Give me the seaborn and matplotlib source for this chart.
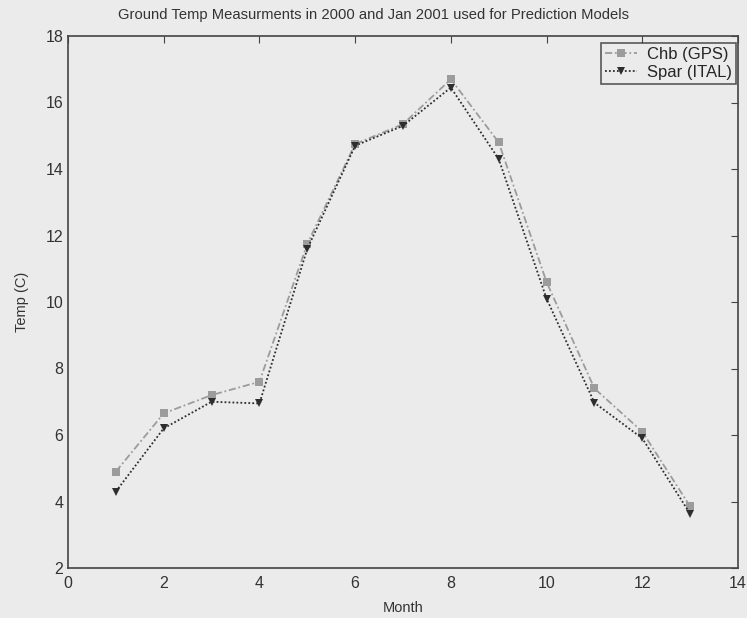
import numpy as np
import pandas as pd
import seaborn as sns
import matplotlib
matplotlib.use("Agg")
import matplotlib.pyplot as plt

months = [1, 2, 3, 4, 5, 6, 7, 8, 9, 10, 11, 12, 13]
chb_gps = [4.9, 6.65, 7.2, 7.6, 11.75, 14.75, 15.35, 16.7, 14.8, 10.6, 7.4, 6.1, 3.85]
spar_ital = [4.3, 6.2, 7.0, 6.95, 11.6, 14.7, 15.3, 16.45, 14.3, 10.1, 6.97, 5.9, 3.63]
series_names = ["Chb (GPS)", "Spar (ITAL)"]

df = pd.DataFrame({
    "Month": months * 2,
    "Temp": chb_gps + spar_ital,
    "Series": [series_names[0]] * len(months) + [series_names[1]] * len(months),
})

sns.set_style("white")
plt.rcParams["font.family"] = ["Liberation Sans", "DejaVu Sans"]
bg = "#ebebeb"
W, H = 747, 618
fig = plt.figure(figsize=(W / 100, H / 100), dpi=100, facecolor=bg)
ax = fig.add_axes([68 / W, 1 - 568 / H, (738 - 68) / W, (568 - 36) / H])
ax.set_facecolor(bg)

sns.lineplot(
    data=df, x="Month", y="Temp", hue="Series", style="Series",
    palette={series_names[0]: "#9c9c9c", series_names[1]: "#2e2e2e"},
    markers={series_names[0]: "s", series_names[1]: "v"},
    dashes={series_names[0]: (4, 1.5, 1, 1.5), series_names[1]: (1, 1.2)},
    markersize=5.8, markeredgewidth=0, linewidth=1.3, ax=ax,
)

ax.set_xlim(0, 14)
ax.set_ylim(2, 18)
ax.set_xticks(range(0, 15, 2))
ax.set_yticks(range(2, 19, 2))
ax.tick_params(direction="in", length=5, colors="#444444", labelsize=11.5,
               top=True, right=True, labelcolor="#333333")
ax.tick_params(axis="x", pad=6)
for s in ax.spines.values():
    s.set_visible(True)
    s.set_color("#444444")
    s.set_linewidth(1.2)
ax.set_xlabel("Month", fontsize=10.5, color="#333333", labelpad=7)
ax.set_ylabel("Temp (C)", fontsize=10.5, color="#333333", labelpad=12)
fig.text(373 / W, 1 - 15 / H,
         "Ground Temp Measurments in 2000 and Jan 2001 used for Prediction Models",
         fontsize=10.6, color="#333333", ha="center", va="center")

leg = ax.legend(loc="upper right", bbox_to_anchor=(736 / W, 1 - 43 / H),
                bbox_transform=fig.transFigure, borderaxespad=0,
                fontsize=12, frameon=True, fancybox=False,
                edgecolor="#333333", facecolor=bg,
                handlelength=1.9, handletextpad=0.6, borderpad=0.25, labelspacing=0.15)
leg.get_frame().set_linewidth(1.2)
leg.set_title(None)

fig.savefig("out.png", dpi=100, facecolor=bg)
